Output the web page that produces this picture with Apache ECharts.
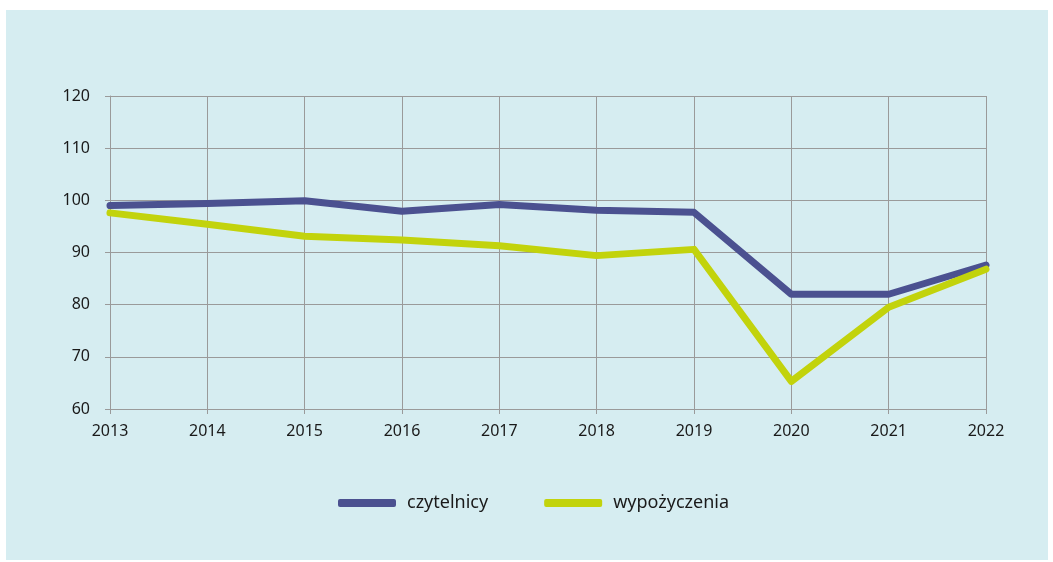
<!DOCTYPE html>
<html>
<head>
<meta charset="utf-8">
<script src="https://cdn.jsdelivr.net/npm/echarts@6/dist/echarts.min.js"></script>
<style>
  html, body { margin: 0; padding: 0; background: #fff; }
  #main { width: 1053px; height: 562px; }
</style>
</head>
<body>
<div id="main"></div>
<script>
// lata i wartości
const years = ['2013', '2014', '2015', '2016', '2017', '2018', '2019', '2020', '2021', '2022'];
const czytelnicy = [99.0, 99.4, 99.9, 97.9, 99.2, 98.1, 97.7, 82.0, 82.0, 87.6];
const wypozyczenia = [97.6, 95.4, 93.1, 92.4, 91.3, 89.4, 90.6, 65.3, 79.5, 86.8];

const gridColor = '#9a9a9a';
const labelFont = 'Noto Sans';

let chart = echarts.init(document.getElementById('main'));

let option = {
  backgroundColor: '#ffffff',
  animation: false,
  graphic: [{
    type: 'rect',
    z: -10,
    shape: { x: 6, y: 10, width: 1042, height: 550 },
    style: { fill: '#d6edf1' }
  }],
  grid: {
    left: 110,
    right: 67,
    top: 96,
    bottom: 153
  },
  legend: {
    left: 333,
    top: 489,
    itemWidth: 58,
    itemHeight: 8,
    itemGap: 56,
    icon: 'roundRect',
    textStyle: {
      fontFamily: labelFont,
      fontSize: 18,
      color: '#1a1a1a',
      padding: [0, 0, 0, 6]
    },
    data: ['czytelnicy', 'wypożyczenia']
  },
  xAxis: {
    type: 'category',
    data: years,
    boundaryGap: false,
    axisLine: { show: true, lineStyle: { color: gridColor, width: 1 } },
    axisTick: { show: true, length: 5, lineStyle: { color: gridColor } },
    axisLabel: {
      margin: 14,
      fontFamily: labelFont,
      fontSize: 16,
      color: '#1a1a1a'
    },
    splitLine: { show: true, lineStyle: { color: gridColor, width: 1 } }
  },
  yAxis: {
    type: 'value',
    min: 60,
    max: 120,
    interval: 10,
    axisLine: { show: true, lineStyle: { color: gridColor, width: 1 } },
    axisTick: { show: true, length: 5, lineStyle: { color: gridColor } },
    axisLabel: {
      margin: 20,
      fontFamily: labelFont,
      fontSize: 16,
      color: '#1a1a1a'
    },
    splitLine: { show: true, lineStyle: { color: gridColor, width: 1 } }
  },
  series: [
    {
      name: 'czytelnicy',
      type: 'line',
      data: czytelnicy,
      showSymbol: false,
      symbol: 'none',
      color: '#4b5190',
      lineStyle: { width: 7, color: '#4b5190', cap: 'round', join: 'round' },
      z: 3
    },
    {
      name: 'wypożyczenia',
      type: 'line',
      data: wypozyczenia,
      showSymbol: false,
      symbol: 'none',
      color: '#c2d30c',
      lineStyle: { width: 7, color: '#c2d30c', cap: 'round', join: 'round' },
      z: 4
    }
  ]
};

chart.setOption(option);
</script>
</body>
</html>
